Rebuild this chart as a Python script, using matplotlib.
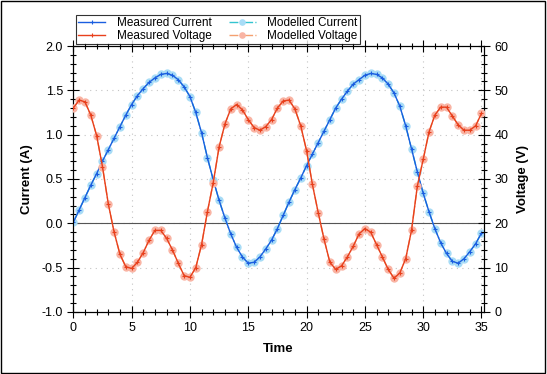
import numpy as np
import matplotlib
matplotlib.use("Agg")
import matplotlib.pyplot as plt
from matplotlib.ticker import MultipleLocator, FormatStrFormatter
from matplotlib.patches import Rectangle

plt.rcParams['font.family'] = ['Liberation Sans', 'DejaVu Sans']

time = np.arange(0, 35.01, 0.5)

current = [
    0.01, 0.15, 0.29, 0.43, 0.56, 0.70, 0.83, 0.96, 1.09, 1.22,
    1.34, 1.44, 1.52, 1.59, 1.64, 1.68, 1.69, 1.67, 1.62, 1.54,
    1.43, 1.25, 1.02, 0.74, 0.49, 0.26, 0.06, -0.12, -0.27, -0.38,
    -0.45, -0.44, -0.38, -0.29, -0.19, -0.06, 0.09, 0.24, 0.38, 0.51,
    0.65, 0.78, 0.91, 1.04, 1.17, 1.30, 1.40, 1.49, 1.57, 1.62,
    1.67, 1.69, 1.68, 1.64, 1.57, 1.47, 1.32, 1.10, 0.84, 0.58,
    0.34, 0.13, -0.06, -0.22, -0.34, -0.43, -0.45, -0.40, -0.32, -0.23,
    -0.11,
]
voltage = [
    46.0, 47.8, 47.4, 44.4, 39.8, 32.8, 24.4, 18.0, 13.0, 10.2,
    9.8, 11.2, 13.4, 16.2, 18.4, 18.4, 16.6, 14.0, 11.0, 8.2,
    7.8, 10.0, 15.2, 22.6, 29.2, 37.2, 42.4, 45.8, 46.8, 45.6,
    43.4, 41.6, 41.0, 41.8, 43.4, 46.0, 47.6, 47.8, 45.8, 42.0,
    36.4, 28.8, 22.4, 16.4, 11.2, 9.6, 10.4, 12.4, 14.8, 17.6,
    18.8, 18.0, 15.2, 12.4, 9.6, 7.6, 8.8, 12.0, 18.4, 28.4,
    34.4, 40.6, 44.4, 46.2, 46.2, 44.2, 42.2, 41.0, 41.0, 42.0,
    44.8,
]
# model fits lie on top of the measurements
model_current = list(current)
model_voltage = list(voltage)

fig = plt.figure(figsize=(5.47, 3.74), dpi=100)
ax = fig.add_axes([0.134, 0.166, 0.7505, 0.711])
ax2 = ax.twinx()

ax.plot(time, model_current, color='#33c4d0', ls='-.', lw=1, marker='o', ms=6,
        mfc='#a8dcf6', mec='none', label='Modelled Current', zorder=3)
ax.plot(time, current, color='#1a5ee0', lw=1, marker='+', ms=3, mew=0.8,
        label='Measured Current', zorder=4)
ax2.plot(time, model_voltage, color='#f4a070', ls='-.', lw=1, marker='o', ms=6,
         mfc='#f9b4a4', mec='none', label='Modelled Voltage', zorder=3)
ax2.plot(time, voltage, color='#e8401c', lw=1, marker='+', ms=3, mew=0.8,
         label='Measured Voltage', zorder=4)

ax.axhline(0, color='#555555', lw=0.8, zorder=2)

ax.set_xlim(0, 35.2)
ax.set_ylim(-1, 2)
ax2.set_ylim(0, 60)
ax.xaxis.set_major_locator(MultipleLocator(5))
ax.xaxis.set_minor_locator(MultipleLocator(1))
ax.yaxis.set_major_locator(MultipleLocator(0.5))
ax.yaxis.set_minor_locator(MultipleLocator(0.1))
ax.yaxis.set_major_formatter(FormatStrFormatter('%.1f'))
ax2.yaxis.set_major_locator(MultipleLocator(10))
ax2.yaxis.set_minor_locator(MultipleLocator(2))

ax.grid(True, which='major', color='#c4c4c4', ls=(0, (1, 4)), lw=0.8)

ax.tick_params(axis='both', which='both', direction='inout', labelsize=9, top=True)
ax.tick_params(which='major', length=8, width=0.8)
ax.tick_params(which='minor', length=5, width=0.8)
ax2.tick_params(axis='y', which='both', direction='inout', labelsize=9)
ax2.tick_params(which='major', length=8, width=0.8)
ax2.tick_params(which='minor', length=5, width=0.8)

ax.set_xlabel('Time', fontsize=9.5, fontweight='bold', labelpad=6)
ax.set_ylabel('Current (A)', fontsize=9.5, fontweight='bold', labelpad=6)
ax2.set_ylabel('Voltage (V)', fontsize=9.5, fontweight='bold', labelpad=6)

h1, lab1 = ax.get_legend_handles_labels()
h2, lab2 = ax2.get_legend_handles_labels()
handles = [h1[1], h2[1], h1[0], h2[0]]
labels = [lab1[1], lab2[1], lab1[0], lab2[0]]
leg = fig.legend(handles, labels, loc='upper left', bbox_to_anchor=(0.128, 1 - 9 / 374),
                 ncol=2, fontsize=8.5, frameon=True, fancybox=False, edgecolor='black',
                 handlelength=2.3, handletextpad=1.0, columnspacing=1.4, borderpad=0.2,
                 labelspacing=0.05, markerscale=0.8)
leg.get_frame().set_linewidth(0.8)

fig.patches.append(Rectangle((0.002, 0.003), 0.995, 0.994, transform=fig.transFigure,
                             fill=False, edgecolor='black', lw=1))

fig.savefig('out.png', dpi=100)
